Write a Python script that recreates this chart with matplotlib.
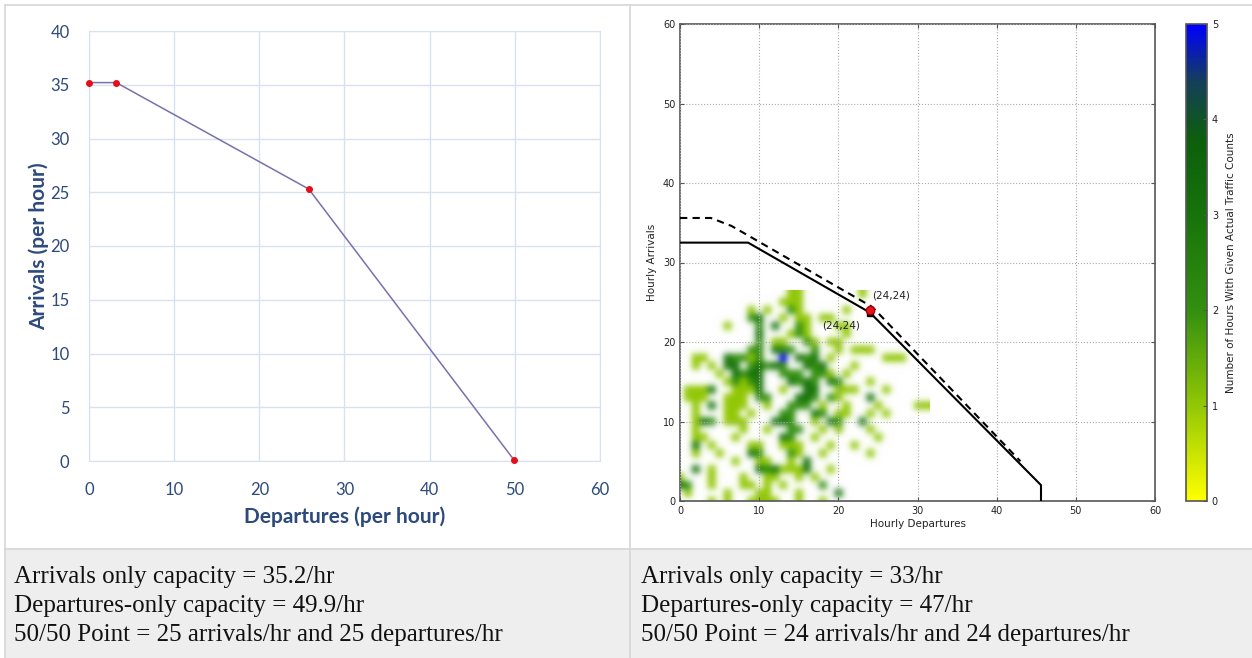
import numpy as np
import matplotlib
matplotlib.use("Agg")
from matplotlib import pyplot as plt
from matplotlib.colors import LinearSegmentedColormap, Normalize
from matplotlib.cm import ScalarMappable
from matplotlib.lines import Line2D
from matplotlib.patches import Rectangle

# left panel: modelled capacity envelope
model_departures = [0, 3.2, 25.8, 49.9]
model_arrivals = [35.2, 35.2, 25.3, 0.1]

# right panel: capacity curves
solid_departures = [0, 8.6, 24, 45.6, 45.6]
solid_arrivals = [32.5, 32.5, 23.7, 2, 0]
dashed_departures = [0, 3.9, 6.5, 8.6, 24.3, 43]
dashed_arrivals = [35.6, 35.6, 34.6, 33.4, 24.4, 5]
point_50_50 = (24, 24)

# hours with given actual traffic counts, rows from arrivals=26 down to 0,
# column = departures; '.' means zero
traffic_rows = [
    "..............11.......1",
    ".............111",
    ".........1.1..21.....1",
    ".........23..1.11.11",
    "......1...2.3..21...11",
    "..........3...121....1",
    "..........2.11..21.11",
    ".........22.322..2..1.111",
    "..11..32212..5.323.1......111",
    "..1.1.33.23232..323...1",
    ".....1.3233..222.221.1",
    "......12123...3232.32...1",
    ".1113..1113..1..33..111...1",
    ".111..111.22...332.21...3",
    "..1.3.111..1..222.1..1...1....11",
    "..1...11.1...22..32.11..1.1",
    "..132.111...332..1.32..3",
    "..1.....1..1..22..1.1...1",
    "..11...1.....32..1.......1",
    "..3.1....11..111...1..1",
    "..1..1...32...21..1.....1",
    ".......1..11..1.3",
    "..3.1.....3231113..1",
    "1...1...1..11..1.1",
    "32..1...11.1.1....2",
    ".1....1...11...1....3",
    "....1.1..1111..1..1",
]

left_caption = [
    "Arrivals only capacity = 35.2/hr",
    "Departures-only capacity = 49.9/hr",
    "50/50 Point = 25 arrivals/hr and 25 departures/hr",
]
right_caption = [
    "Arrivals only capacity = 33/hr",
    "Departures-only capacity = 47/hr",
    "50/50 Point = 24 arrivals/hr and 24 departures/hr",
]

W, H = 1252, 658
fig = plt.figure(figsize=(W / 100, H / 100), dpi=100)


def frac(x0, y0, x1, y1):
    # pixel box (top-left origin) -> figure fraction rect
    return [x0 / W, 1 - y1 / H, (x1 - x0) / W, (y1 - y0) / H]


# table background and borders
border = "#d6d6d6"
fig.add_artist(Rectangle((5 / W, 0), 1 - 5 / W, (H - 549) / H, transform=fig.transFigure,
                         facecolor="#eeeeee", edgecolor="none", zorder=0))
for x in [5, 630]:
    fig.add_artist(Line2D([x / W, x / W], [0, 1 - 5 / H], color=border, lw=1.2))
for y in [5, 549]:
    fig.add_artist(Line2D([5 / W, 1], [1 - y / H, 1 - y / H], color=border, lw=1.2))

# ---- left chart ----
blue_text = "#2c4a7c"
grid_blue = "#d9e1f0"
ax = fig.add_axes(frac(89, 31, 600, 461))
ax.plot(model_departures, model_arrivals, color="#7b70a8", lw=1.1, zorder=3)
ax.plot(model_departures, model_arrivals, "o", color="#e3101c", ms=4, zorder=4, clip_on=False)
ax.set_xlim(0, 60)
ax.set_ylim(0, 40)
ax.set_xticks(range(0, 61, 10))
ax.set_yticks(range(0, 41, 5))
ax.grid(color=grid_blue, lw=1)
for s in ax.spines.values():
    s.set_color(grid_blue)
ax.tick_params(length=0, labelsize=12, labelcolor=blue_text, pad=14)
ax.tick_params(axis="x", pad=15)
for lab in ax.get_xticklabels() + ax.get_yticklabels():
    lab.set_family("Lato")
ax.set_xlabel("Departures (per hour)", family="Lato", fontsize=15, weight="bold",
              color=blue_text, labelpad=6)
ax.set_ylabel("Arrivals (per hour)", family="Lato", fontsize=15, weight="bold",
              color=blue_text, labelpad=1)

# ---- right chart ----
cmap = LinearSegmentedColormap.from_list("traffic", [
    (0.0, (1.0, 1.0, 0.0)),
    (0.2, (0.57, 0.78, 0.02)),
    (0.4, (0.2, 0.56, 0.06)),
    (0.6, (0.09, 0.45, 0.04)),
    (0.76, (0.05, 0.37, 0.05)),
    (0.88, (0.08, 0.25, 0.35)),
    (1.0, (0.0, 0.0, 1.0)),
])
norm = Normalize(0, 5)
ncols = max(len(r) for r in traffic_rows)
counts = np.array([[0 if c == "." else int(c) for c in r.ljust(ncols, ".")]
                   for r in traffic_rows[::-1]], dtype=float)
# empty cells drawn white so the smoothing fades into the background
rgba = cmap(norm(counts))
rgba[counts == 0] = (1, 1, 1, 1)

axr = fig.add_axes(frac(680, 24, 1155, 501))
axr.imshow(rgba, origin="lower",
           extent=(-0.5, ncols - 0.5, -0.5, counts.shape[0] - 0.5),
           interpolation="gaussian", aspect="auto", zorder=1)
axr.plot(dashed_departures, dashed_arrivals, color="black", lw=1.5, ls=(0, (3.5, 2.5)), zorder=3)
axr.plot(solid_departures, solid_arrivals, color="black", lw=1.5, zorder=3)
axr.plot(point_50_50[0], point_50_50[1] - 0.4, "s", color="black", ms=5, zorder=4)
axr.plot(*point_50_50, "o", color="#e8141c", mec="#b00000", ms=6, zorder=5)
axr.text(24.3, 25.8, "(24,24)", fontsize=7.5, color="#222222", va="center", zorder=6)
axr.text(17.9, 22.1, "(24,24)", fontsize=7.5, color="#222222", va="center", zorder=6)
axr.set_xlim(0, 60)
axr.set_ylim(0, 60)
axr.set_xticks(range(0, 61, 10))
axr.set_yticks(range(0, 61, 10))
axr.grid(color="#aaaaaa", ls=":", lw=0.8)
axr.set_axisbelow(False)
for s in axr.spines.values():
    s.set_color("#555555")
    s.set_linewidth(1.2)
axr.tick_params(direction="in", length=3, labelsize=7, labelcolor="#222222", color="#555555",
                top=True, right=True)
axr.set_xlabel("Hourly Departures", fontsize=7.5, color="#222222", labelpad=2)
axr.set_ylabel("Hourly Arrivals", fontsize=7.5, color="#222222", labelpad=4)

cax = fig.add_axes(frac(1186, 24, 1207, 501))
cb = fig.colorbar(ScalarMappable(norm=norm, cmap=cmap), cax=cax, ticks=range(6))
cb.outline.set_edgecolor("#555555")
cb.outline.set_linewidth(1.2)
cax.tick_params(direction="in", length=3, labelsize=7, labelcolor="#222222", color="#555555")
cb.set_label("Number of Hours With Given Actual Traffic Counts", fontsize=7.5, color="#222222",
             labelpad=6)

# ---- captions ----
for i, (lt, rt) in enumerate(zip(left_caption, right_caption)):
    yb = 1 - (583 + 29 * i) / H
    fig.text(14 / W, yb, lt, family="Liberation Serif", fontsize=18, va="baseline", color="#111111")
    fig.text(641 / W, yb, rt, family="Liberation Serif", fontsize=18, va="baseline", color="#111111")

fig.savefig("out.png", dpi=100, facecolor="white")
